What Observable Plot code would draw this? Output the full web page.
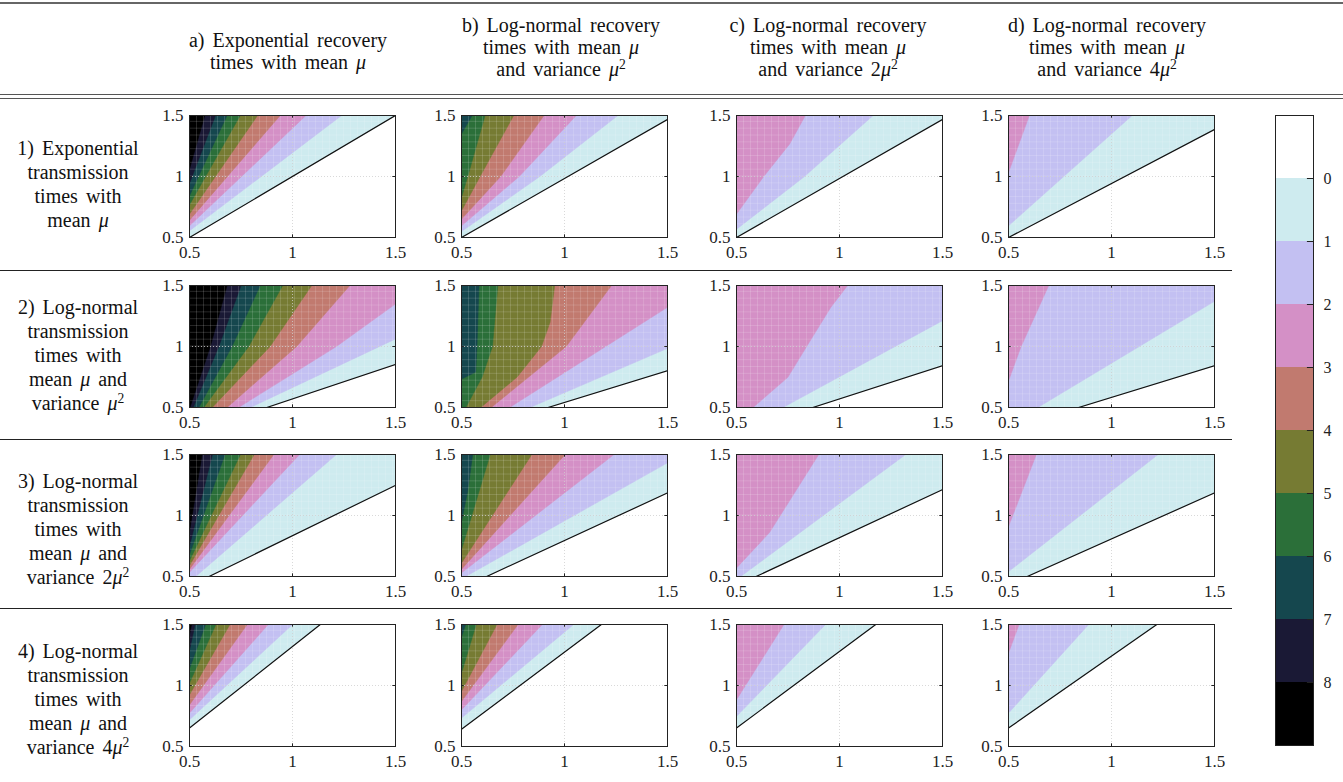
<!DOCTYPE html>
<html><head><meta charset="utf-8">
<script src="https://cdn.jsdelivr.net/npm/d3@7"></script>
<script src="https://cdn.jsdelivr.net/npm/@observablehq/plot@0.6"></script>
<style>
body{margin:0;background:#fff;}
#root{position:relative;width:1343px;height:782px;overflow:hidden;font-family:"Liberation Serif",serif;color:#111;}
.hdr{position:absolute;text-align:center;font-size:20px;line-height:22px;word-spacing:3px;white-space:nowrap;}
.rowlab{position:absolute;text-align:center;font-size:20px;line-height:24px;word-spacing:3px;white-space:nowrap;}
sup{font-size:0.68em;line-height:0;vertical-align:0.55em;}
.hl{position:absolute;left:0;height:0;}
.pn{position:absolute;}
.pn svg{overflow:visible;max-width:none !important;height:auto;}
</style></head>
<body><div id="root"></div>
<script>
// ---------- data ----------
const axisTicks = [0.5, 1, 1.5];
const barTicks = [0, 1, 2, 3, 4, 5, 6, 7, 8];
const colTitles = [
  ["a) Exponential recovery", "times with mean <i>μ</i>"],
  ["b) Log-normal recovery", "times with mean <i>μ</i>", "and variance <i>μ</i><sup>2</sup>"],
  ["c) Log-normal recovery", "times with mean <i>μ</i>", "and variance 2<i>μ</i><sup>2</sup>"],
  ["d) Log-normal recovery", "times with mean <i>μ</i>", "and variance 4<i>μ</i><sup>2</sup>"]
];
const rowTitles = [
  ["1) Exponential", "transmission", "times with", "mean <i>μ</i>"],
  ["2) Log-normal", "transmission", "times with", "mean <i>μ</i> and", "variance <i>μ</i><sup>2</sup>"],
  ["3) Log-normal", "transmission", "times with", "mean <i>μ</i> and", "variance 2<i>μ</i><sup>2</sup>"],
  ["4) Log-normal", "transmission", "times with", "mean <i>μ</i> and", "variance 4<i>μ</i><sup>2</sup>"]
];
// contour boundaries: index k = boundary between level k and level k+1 (k=0 is the black line)
const panel1a = [
  [[0.5,0.5],[1.5,1.5]],
  [[0.5,0.555],[1.238,1.5]],
  [[0.5,0.596],[1.065,1.5]],
  [[0.5,0.642],[0.94,1.5]],
  [[0.5,0.692],[0.83,1.5]],
  [[0.5,0.768],[0.746,1.5]],
  [[0.5,0.842],[0.682,1.5]],
  [[0.5,0.944],[0.626,1.5]],
  [[0.5,1.062],[0.574,1.5]]
];
const panel1b = [
  [[0.5,0.5],[1.5,1.467]],
  [[0.5,0.549],[0.88,1.0],[1.259,1.5]],
  [[0.5,0.596],[0.78,1.0],[1.057,1.5]],
  [[0.5,0.651],[0.69,1.0],[0.9,1.5]],
  [[0.5,0.719],[0.59,1.0],[0.753,1.5]],
  [[0.5,0.829],[0.53,1.0],[0.614,1.5]],
  [[0.5,1.35],[0.551,1.5]]
];
const panel1c = [
  [[0.5,0.5],[1.5,1.467]],
  [[0.5,0.568],[0.83,1.0],[1.163,1.5]],
  [[0.5,0.692],[0.632,1.0],[0.758,1.267],[0.834,1.5]]
];
const panel1d = [
  [[0.5,0.5],[1.5,1.385]],
  [[0.5,0.596],[1.1,1.5]],
  [[0.5,1.034],[0.601,1.5]]
];
const panel2a = [
  [[0.875,0.5],[1.5,0.853]],
  [[0.795,0.5],[1.5,1.062]],
  [[0.738,0.5],[1.213,1.0],[1.5,1.349]],
  [[0.682,0.5],[1.02,1.0],[1.278,1.5]],
  [[0.61,0.5],[0.891,1.0],[1.093,1.5]],
  [[0.569,0.5],[0.787,1.0],[0.952,1.5]],
  [[0.545,0.5],[0.706,1.0],[0.843,1.5]],
  [[0.518,0.5],[0.642,1.0],[0.75,1.5]],
  [[0.502,0.5],[0.601,1.0],[0.682,1.5]]
];
const panel2b = [
  [[0.92,0.5],[1.5,0.801]],
  [[0.832,0.5],[1.5,0.985]],
  [[0.733,0.5],[1.5,1.322]],
  [[0.644,0.5],[1.008,1.0],[1.228,1.5]],
  [[0.593,0.5],[0.77,0.75],[0.888,1.0],[0.93,1.2],[0.952,1.5]],
  [[0.521,0.5],[0.6,0.75],[0.65,1.0],[0.676,1.5]],
  [[0.5,0.733],[0.569,0.79],[0.575,1.0],[0.585,1.5]]
];
const panel2c = [
  [[0.87,0.5],[1.5,0.842]],
  [[0.725,0.5],[1.5,1.212]],
  [[0.58,0.5],[0.749,0.747],[0.838,0.993],[0.958,1.322],[1.039,1.5]]
];
const panel2d = [
  [[0.84,0.5],[1.5,0.842]],
  [[0.642,0.5],[1.5,1.371]],
  [[0.5,0.719],[0.561,1.0],[0.695,1.5]]
];
const panel3a = [
  [[0.595,0.5],[1.5,1.247]],
  [[0.53,0.5],[1.213,1.5]],
  [[0.5,0.535],[1.034,1.5]],
  [[0.5,0.56],[0.909,1.5]],
  [[0.5,0.59],[0.814,1.5]],
  [[0.5,0.63],[0.747,1.5]],
  [[0.5,0.68],[0.672,1.5]],
  [[0.5,0.75],[0.611,1.5]],
  [[0.5,0.87],[0.561,1.5]]
];
const panel3b = [
  [[0.622,0.5],[1.5,1.185]],
  [[0.52,0.5],[1.5,1.432]],
  [[0.5,0.53],[1.24,1.5]],
  [[0.5,0.56],[1.003,1.5]],
  [[0.5,0.61],[0.841,1.5]],
  [[0.5,0.72],[0.639,1.5]],
  [[0.5,0.95],[0.53,1.2],[0.554,1.5]]
];
const panel3c = [
  [[0.595,0.5],[1.5,1.212]],
  [[0.52,0.5],[1.321,1.5]],
  [[0.5,0.57],[0.66,0.86],[0.899,1.5]]
];
const panel3d = [
  [[0.591,0.5],[1.5,1.185]],
  [[0.5,0.54],[1.226,1.5]],
  [[0.5,0.911],[0.635,1.5]]
];
const panel4a = [
  [[0.5,0.651],[1.135,1.5]],
  [[0.5,0.719],[1.0,1.5]],
  [[0.5,0.774],[0.882,1.5]],
  [[0.5,0.842],[0.78,1.5]],
  [[0.5,0.925],[0.696,1.5]],
  [[0.5,1.02],[0.628,1.5]],
  [[0.5,1.14],[0.578,1.5]],
  [[0.5,1.29],[0.527,1.5]],
  [[0.5,1.42],[0.51,1.5]]
];
const panel4b = [
  [[0.5,0.642],[1.179,1.5]],
  [[0.5,0.733],[1.044,1.5]],
  [[0.5,0.801],[0.892,1.5]],
  [[0.5,0.87],[0.774,1.5]],
  [[0.5,0.952],[0.672,1.5]],
  [[0.5,1.103],[0.571,1.5]],
  [[0.5,1.4],[0.52,1.5]]
];
const panel4c = [
  [[0.5,0.651],[1.176,1.5]],
  [[0.5,0.747],[0.932,1.5]],
  [[0.5,0.884],[0.73,1.5]]
];
const panel4d = [
  [[0.5,0.651],[1.22,1.5]],
  [[0.5,0.774],[0.889,1.5]],
  [[0.5,1.267],[0.551,1.5]]
];
const panels = [
  [panel1a, panel1b, panel1c, panel1d],
  [panel2a, panel2b, panel2c, panel2d],
  [panel3a, panel3b, panel3c, panel3d],
  [panel4a, panel4b, panel4c, panel4d]
];

// ---------- styles / layout ----------
const levelColors = d3.quantize(d3.interpolateCubehelixDefault, 10).reverse(); // white -> black
const colX = [189, 461, 736, 1008];
const rowY = [115, 285, 454, 624];
const PW = 206, PH = 122;
const ML = 35, MR = 14, MT = 6, MB = 26;
const FONT = "Liberation Serif, serif";
// faint white rendering seams of the original filled-contour mesh (decoration only)
const seamX = d3.range(0.5, 1.5, 0.034);
const seamY = d3.range(0.5, 1.5, 0.056);

const root = document.getElementById("root");

function addLine(y, w, thick, color) {
  const d = document.createElement("div");
  d.className = "hl";
  d.style.top = y + "px";
  d.style.width = w + "px";
  d.style.borderTop = thick + "px solid " + color;
  root.appendChild(d);
}
addLine(2, 1343, 2, "#666");
addLine(94, 1343, 1.5, "#555");
addLine(98, 1343, 1.5, "#555");
addLine(270, 1232, 1, "#222");
addLine(439, 1232, 1, "#222");
addLine(608, 1232, 1, "#222");

const hdrCenter = [288, 561, 828, 1107];
colTitles.forEach((lines, i) => {
  const d = document.createElement("div");
  d.className = "hdr";
  d.style.width = "300px";
  d.style.left = (hdrCenter[i] - 150) + "px";
  d.style.top = (lines.length === 2 ? 29 : 14) + "px";
  d.innerHTML = lines.join("<br>");
  root.appendChild(d);
});
const rowTop = [136, 295, 469, 639];
rowTitles.forEach((lines, i) => {
  const d = document.createElement("div");
  d.className = "rowlab";
  d.style.width = "156px";
  d.style.left = "0px";
  d.style.top = rowTop[i] + "px";
  d.innerHTML = lines.join("<br>");
  root.appendChild(d);
});

function regionAbove(pts) {
  const first = pts[0], last = pts[pts.length - 1];
  const poly = pts.map(p => ({x: p[0], y: p[1]}));
  if (last[0] >= 1.5 && last[1] < 1.5) poly.push({x: 1.5, y: 1.5});
  poly.push({x: 0.5, y: 1.5});
  if (first[1] <= 0.5 && first[0] > 0.5) poly.push({x: 0.5, y: 0.5});
  return poly;
}

function makePanel(bounds) {
  const marks = [];
  bounds.forEach((pts, k) => {
    const c = levelColors[k + 1];
    marks.push(Plot.line(regionAbove(pts), {x: "x", y: "y", fill: c, stroke: c, strokeWidth: 0.6, clip: true}));
  });
  marks.push(Plot.ruleX(seamX, {stroke: "white", strokeOpacity: 0.22, strokeWidth: 0.7}));
  marks.push(Plot.ruleY(seamY, {stroke: "white", strokeOpacity: 0.22, strokeWidth: 0.7}));
  marks.push(Plot.ruleX([1], {stroke: "#cfcfcf", strokeDasharray: "1,2", strokeWidth: 0.8}));
  marks.push(Plot.ruleY([1], {stroke: "#cfcfcf", strokeDasharray: "1,2", strokeWidth: 0.8}));
  marks.push(Plot.line(bounds[0].map(p => ({x: p[0], y: p[1]})), {x: "x", y: "y", stroke: "#111", strokeWidth: 1.2, clip: true}));
  // inward box ticks
  marks.push(Plot.ruleX([1], {y1: 0.5, y2: 0.522, stroke: "#222"}));
  marks.push(Plot.ruleX([1], {y1: 1.478, y2: 1.5, stroke: "#222"}));
  marks.push(Plot.ruleY([1], {x1: 0.5, x2: 0.513, stroke: "#222"}));
  marks.push(Plot.ruleY([1], {x1: 1.487, x2: 1.5, stroke: "#222"}));
  marks.push(Plot.frame({stroke: "#222", strokeWidth: 1}));
  marks.push(Plot.axisX(axisTicks, {tickSize: 0, tickPadding: 8, tickFormat: d => String(d), fontSize: 17, label: null}));
  marks.push(Plot.axisY(axisTicks, {tickSize: 0, tickPadding: 6, tickFormat: d => String(d), fontSize: 17, label: null}));
  return Plot.plot({
    width: PW + ML + MR, height: PH + MT + MB,
    marginLeft: ML, marginRight: MR, marginTop: MT, marginBottom: MB,
    x: {domain: [0.5, 1.5], label: null},
    y: {domain: [0.5, 1.5], label: null},
    style: {fontFamily: FONT, fontSize: "17px", color: "#222", background: "transparent", overflow: "visible"},
    marks
  });
}

panels.forEach((row, r) => row.forEach((bounds, c) => {
  const d = document.createElement("div");
  d.className = "pn";
  d.style.left = (colX[c] - ML) + "px";
  d.style.top = (rowY[r] - MT) + "px";
  d.style.width = (PW + ML + MR) + "px";
  d.appendChild(makePanel(bounds));
  root.appendChild(d);
}));

// colour bar
const bands = levelColors.map((color, k) => ({lo: k - 1, hi: k, color}));
const cbW = 38 + 40, cbH = 630 + 10;
const cb = Plot.plot({
  width: cbW, height: cbH,
  marginLeft: 0, marginRight: 40, marginTop: 5, marginBottom: 5,
  x: {domain: [0, 1], axis: null},
  y: {domain: [-1, 9], reverse: true, axis: null},
  color: {type: "identity"},
  style: {fontFamily: FONT, fontSize: "16px", color: "#222", background: "transparent", overflow: "visible"},
  marks: [
    Plot.rect(bands, {x1: 0, x2: 1, y1: "lo", y2: "hi", fill: "color"}),
    Plot.ruleY(barTicks, {x1: 0.84, x2: 1, stroke: "#222"}),
    Plot.frame({stroke: "#222"}),
    Plot.axisY(barTicks, {anchor: "right", tickSize: 0, tickPadding: 10, fontSize: 16, tickFormat: d => String(d), label: null})
  ]
});
const cbd = document.createElement("div");
cbd.className = "pn";
cbd.style.left = "1275px";
cbd.style.top = "110px";
cbd.style.width = cbW + "px";
cbd.appendChild(cb);
root.appendChild(cbd);
</script>
</body></html>
